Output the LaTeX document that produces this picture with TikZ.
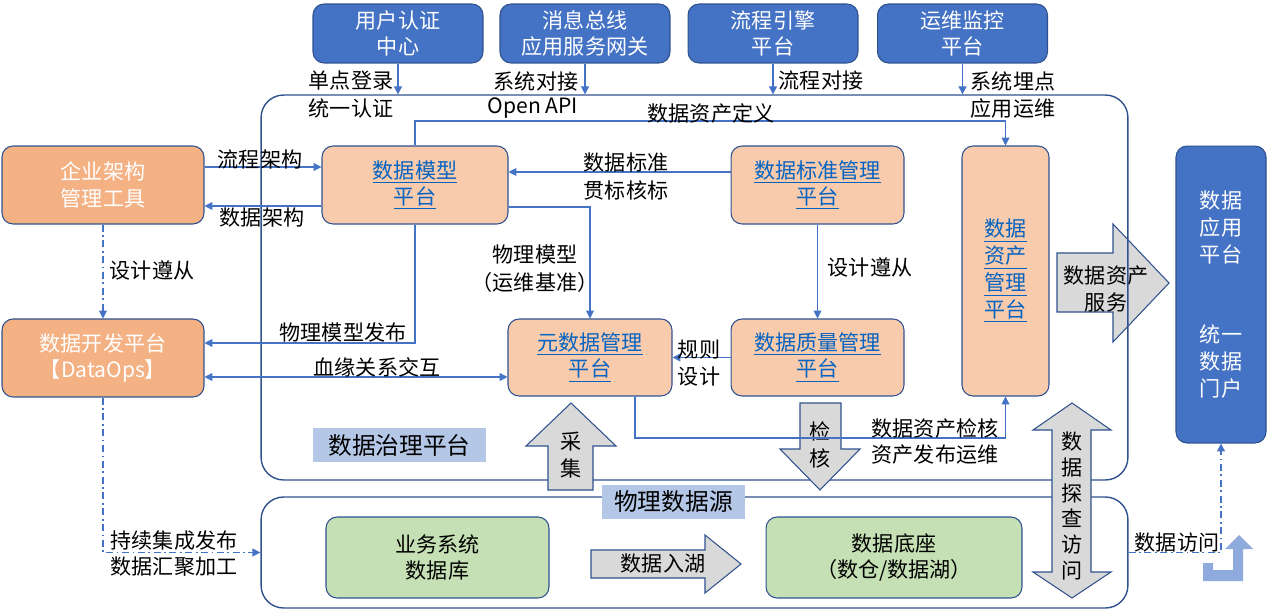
\documentclass[tikz,border=0pt]{standalone}
\usepackage{fontspec}
\setmainfont{Noto Sans CJK SC}
\usetikzlibrary{arrows.meta,positioning}
\definecolor{boxblue}{HTML}{4472C4}
\definecolor{edgeblue}{HTML}{2F528F}
\definecolor{lineblue}{HTML}{4472C4}
\definecolor{orangefill}{HTML}{F4B183}
\definecolor{peachfill}{HTML}{F8CBAD}
\definecolor{greenfill}{HTML}{C5E0B4}
\definecolor{tagfill}{HTML}{B4C7E7}
\definecolor{grayfill}{HTML}{D9D9D9}
\definecolor{linkblue}{HTML}{0563C1}
\definecolor{iconblue}{HTML}{8FAADC}
\newcommand{\lk}[1]{\underline{#1}}
\begin{document}
\begin{tikzpicture}[x=0.02cm, y=-0.02cm,
    box/.style={draw=edgeblue, line width=0.6pt, rounded corners=0.22cm, align=center, inner sep=0pt, font=\fontsize{12}{15}\selectfont},
    topbox/.style={box, fill=boxblue, text=white, minimum width=3.4cm, minimum height=1.18cm},
    toolbox/.style={box, fill=orangefill, text=white, minimum width=4.04cm, minimum height=1.56cm},
    govbox/.style={box, fill=peachfill, text=linkblue},
    srcbox/.style={box, fill=greenfill, minimum height=1.62cm},
    panel/.style={draw=edgeblue, line width=0.8pt, rounded corners=0.45cm, minimum width=17.34cm, inner sep=0pt},
    tag/.style={fill=tagfill, inner sep=0pt, minimum height=0.68cm, font=\fontsize{13.5}{16}\selectfont},
    lbl/.style={inner sep=0pt, font=\fontsize{12}{15}\selectfont},
    link/.style={draw=lineblue, line width=0.6pt, -{Triangle[length=4.5pt,width=4.5pt]}},
    dlink/.style={link, dash pattern=on 4pt off 2pt on 1pt off 2pt},
    blockarrow/.style={fill=grayfill, draw=edgeblue, line width=0.6pt, line join=miter}]
  \useasboundingbox (0,0) rectangle (1267,611);

  % service arrow sits under the panel border
  \draw[blockarrow] (1057,253) -- (1113,253) -- (1113,224) -- (1169,283) -- (1113,342) -- (1113,312) -- (1057,312) -- cycle;
  \node[lbl, align=center] (fuwu) at (1106,289) {数据资产\\服务};

  % panels
  \node[panel, minimum height=7.7cm] (gov) at (694.5,287.5) {};
  \node[panel, minimum height=2.22cm] (src) at (694.5,552.5) {};
  \node[tag, minimum width=3.46cm] (govtag) at (399.5,445) {数据治理平台};

  % top systems
  \node[topbox] (auth) at (398,33.5) {用户认证\\中心};
  \node[topbox] (bus) at (585,33.5) {消息总线\\应用服务网关};
  \node[topbox] (flow) at (773,33.5) {流程引擎\\平台};
  \node[topbox] (ops) at (962.5,33.5) {运维监控\\平台};

  % left tools
  \node[toolbox] (ea) at (103,185) {企业架构\\管理工具};
  \node[toolbox] (dev) at (103,358) {数据开发平台\\【DataOps】};

  % governance platforms
  \node[govbox, minimum width=3.72cm, minimum height=1.56cm] (model) at (415,185) {\lk{数据模型}\\\lk{平台}};
  \node[govbox, minimum width=3.46cm, minimum height=1.56cm] (std) at (817.5,185) {\lk{数据标准管理}\\\lk{平台}};
  \node[govbox, minimum width=3.28cm, minimum height=1.54cm] (meta) at (590,357.5) {\lk{元数据管理}\\\lk{平台}};
  \node[govbox, minimum width=3.46cm, minimum height=1.54cm] (qual) at (817.5,357.5) {\lk{数据质量管理}\\\lk{平台}};
  \node[govbox, minimum width=1.74cm, minimum height=5cm, font=\fontsize{12}{15.3}\selectfont] (asset) at (1005.5,271) {\lk{数据}\\\lk{资产}\\\lk{管理}\\\lk{平台}};

  % application portal
  \node[box, fill=boxblue, text=white, minimum width=1.8cm, minimum height=5.94cm, font=\fontsize{12}{15.3}\selectfont] (app) at (1221,294.5) {数据\\应用\\平台\\[30pt]统一\\数据\\门户};

  % physical sources
  \node[srcbox, minimum width=4.46cm] (biz) at (437.5,557.5) {业务系统\\数据库};
  \node[srcbox, minimum width=5.12cm] (base) at (894,557.5) {数据底座\\（数仓/数据湖）};
  \node[tag, minimum width=2.86cm] (srctag) at (673.5,502) {物理数据源};

  % block arrows
  \draw[blockarrow] (571,403) -- (616,446) -- (593,446) -- (593,490) -- (548,490) -- (548,446) -- (526,446) -- cycle;
  \node[lbl, align=center] (caiji) at (571,455) {采\\集};
  \draw[blockarrow] (800,403) -- (841,403) -- (841,449) -- (860,449) -- (820,490) -- (780,449) -- (800,449) -- cycle;
  \node[lbl, align=center] (jianhe) at (820,445) {检\\核};
  \draw[blockarrow] (591,550) -- (705,550) -- (705,535) -- (741,564) -- (705,593) -- (705,578) -- (591,578) -- cycle;
  \node[lbl] (ruhu) at (663,564) {数据入湖};
  \draw[blockarrow] (1072,403) -- (1111,430) -- (1091,430) -- (1091,572) -- (1111,572) -- (1072,598) -- (1033,572) -- (1052,572) -- (1052,430) -- (1033,430) -- cycle;
  \node[lbl, align=center, font=\fontsize{12}{14.7}\selectfont] (tancha) at (1072,506) {数\\据\\探\\查\\访\\问};

  % access icon
  \fill[iconblue] (1203,563) -- (1213,563) -- (1213,570) -- (1233,570) -- (1233,549) -- (1225,549) -- (1239,535) -- (1253,549) -- (1243,549) -- (1243,581) -- (1203,581) -- cycle;

  % connectors from the top
  \draw[link] (auth.south) -- (auth.south |- gov.north);
  \draw[link] (bus.south) -- (bus.south |- gov.north);
  \draw[link] (flow.south) -- (flow.south |- gov.north);
  \draw[link] (ops.south) -- (ops.south |- gov.north);
  \node[lbl] (sso) at (351,81) {单点登录};
  \node[lbl] (unify) at (351,108) {统一认证};
  \node[lbl] (sysjoin) at (536,81) {系统对接};
  \node[lbl] (api) at (533,108) {Open API};
  \node[lbl] (flowjoin) at (821,81) {流程对接};
  \node[lbl] (track) at (1013,81) {系统埋点};
  \node[lbl] (appops) at (1013,108) {应用运维};

  % left side
  \draw[link] (ea.east |- 0,167) -- (model.west |- 0,167);
  \node[lbl] (flowarch) at (260,159) {流程架构};
  \draw[link] (model.west |- 0,206) -- (ea.east |- 0,206);
  \node[lbl] (dataarch) at (262,218) {数据架构};
  \draw[dlink] (ea.south) -- (dev.north);
  \node[lbl] (follow1) at (152,270) {设计遵从};
  \draw[dlink] (dev.south) |- (src.west);
  \node[lbl] (ci) at (174,541) {持续集成发布};
  \node[lbl] (gather) at (174,567) {数据汇聚加工};
  \draw[link] (model.south) |- (dev.east |- 0,343);
  \node[lbl] (publish) at (343,332) {物理模型发布};
  \draw[link, {Triangle[length=4.5pt,width=4.5pt]}-{Triangle[length=4.5pt,width=4.5pt]}] (dev.east |- 0,377) -- (meta.west |- 0,377);
  \node[lbl] (lineage) at (377,367) {血缘关系交互};

  % inside governance
  \draw[link] (model.east |- 0,207) -| (meta.north);
  \node[lbl] (phys) at (535,254) {物理模型};
  \node[lbl] (bench) at (535,282) {（运维基准）};
  \draw[link] (std.west |- 0,172) -- (model.east |- 0,172);
  \node[lbl] (stdname) at (626,163) {数据标准};
  \node[lbl] (check) at (626,190) {贯标核标};
  \draw[link] (std.south) -- (qual.north);
  \node[lbl] (follow2) at (870,267) {设计遵从};
  \draw[link] (qual.west) -- (meta.east);
  \node[lbl] (rule) at (699,350) {规则};
  \node[lbl] (design) at (699,377) {设计};
  \draw[link] (meta.south -| 635,0) -- (635,438) -| (asset.south);
  \node[lbl] (audit) at (935,428) {数据资产检核};
  \node[lbl] (release) at (935,455) {资产发布运维};
  \draw[link] (model.north) -- (model.north |- 0,121) -| (asset.north);
  \node[lbl] (define) at (711,113) {数据资产定义};

  % access
  \draw[dlink] (src.east) -| (app.south);
  \node[lbl] (access) at (1177,543) {数据访问};
\end{tikzpicture}
\end{document}
